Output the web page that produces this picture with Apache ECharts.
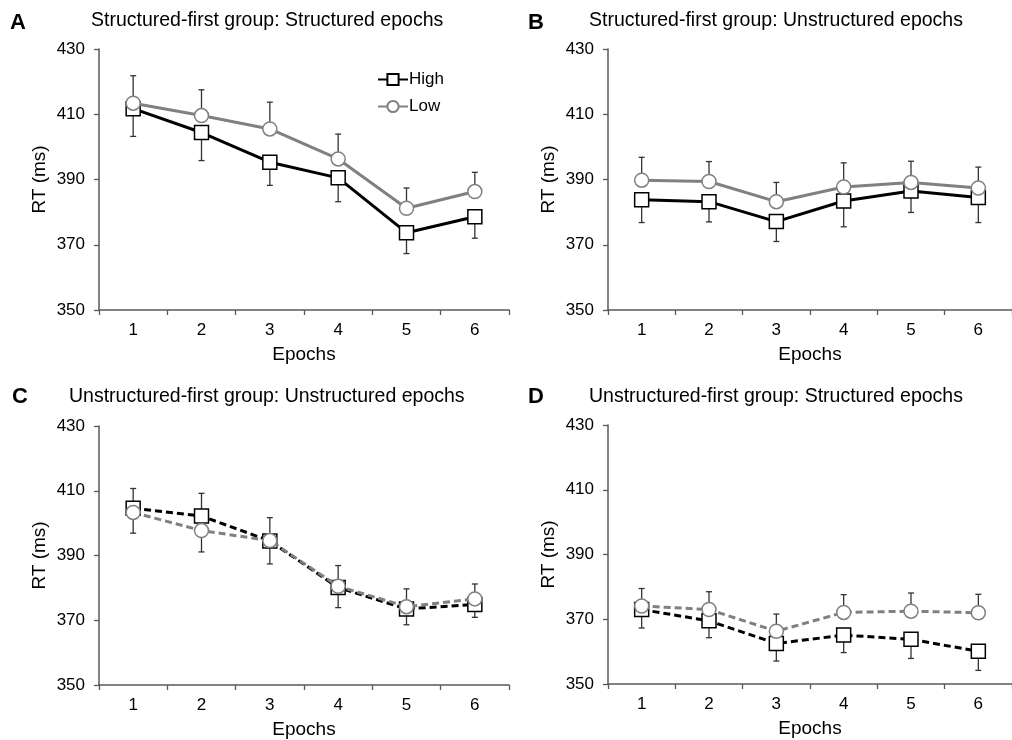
<!DOCTYPE html>
<html>
<head>
<meta charset="utf-8">
<script src="https://cdn.jsdelivr.net/npm/echarts@6/dist/echarts.min.js"></script>
<style>
html,body{margin:0;padding:0;background:#fff;}
#chart{width:1012px;height:740px;}
</style>
</head>
<body>
<div id="chart"></div>
<script>
// ---- data ----
const epochs = ['1', '2', '3', '4', '5', '6'];
const yTicks = [350, 370, 390, 410, 430];
const seriesNames = ['High', 'Low'];

const panelTitles = [
  'Structured-first group: Structured epochs',
  'Structured-first group: Unstructured epochs',
  'Unstructured-first group: Unstructured epochs',
  'Unstructured-first group: Structured epochs'
];
const panelLetters = ['A', 'B', 'C', 'D'];

// Panel A
const highA = [411.7, 404.4, 395.3, 390.5, 373.7, 378.6];
const highA_se = [8.5, 8.6, 7.1, 7.3, 6.4, 6.6];
const lowA = [413.4, 409.6, 405.5, 396.3, 381.2, 386.3];
const lowA_se = [8.4, 7.9, 8.2, 7.6, 6.2, 5.9];
// Panel B
const highB = [383.8, 383.2, 377.1, 383.4, 386.5, 384.5];
const highB_se = [7.0, 6.2, 6.1, 7.9, 6.6, 7.7];
const lowB = [389.8, 389.4, 383.2, 387.7, 389.1, 387.4];
const lowB_se = [7.0, 6.1, 5.9, 7.4, 6.5, 6.4];
// Panel C
const highC = [404.6, 402.2, 394.5, 380.1, 373.5, 374.9];
const highC_se = [7.7, 11.1, 7.1, 6.2, 4.9, 4.0];
const lowC = [403.3, 397.7, 394.6, 380.5, 374.2, 376.6];
const lowC_se = [7.4, 11.5, 7.1, 6.4, 5.5, 4.6];
// Panel D
const highD = [373.0, 369.5, 362.5, 365.1, 363.8, 360.1];
const highD_se = [5.7, 5.2, 5.4, 5.4, 5.9, 5.9];
const lowD = [374.1, 373.0, 366.3, 372.1, 372.5, 372.0];
const lowD_se = [5.4, 5.5, 5.3, 5.5, 5.6, 5.7];

// ---- layout / style ----
const FONT = 'Liberation Sans, Arial, Helvetica, sans-serif';
const AXIS_COLOR = '#595959';
const grids = [
  {left: 99, top: 49, width: 410, height: 261},
  {left: 608, top: 49, width: 410, height: 261},
  {left: 99, top: 426, width: 410, height: 259},
  {left: 608, top: 425, width: 410, height: 259}
];
const titlePos = [
  {left: 91, top: 11}, {left: 589, top: 11},
  {left: 69, top: 387}, {left: 589, top: 387}
];
const letterPos = [
  {left: 10, top: 12}, {left: 528, top: 12},
  {left: 12, top: 386}, {left: 528, top: 386}
];
const panels = [
  {high: highA, highSe: highA_se, low: lowA, lowSe: lowA_se, dashed: false},
  {high: highB, highSe: highB_se, low: lowB, lowSe: lowB_se, dashed: false},
  {high: highC, highSe: highC_se, low: lowC, lowSe: lowC_se, dashed: true},
  {high: highD, highSe: highD_se, low: lowD, lowSe: lowD_se, dashed: true}
];

function errorBarSeries(idx, means, ses, dir) {
  return {
    type: 'custom',
    xAxisIndex: idx, yAxisIndex: idx,
    z: 1,
    silent: true,
    data: means.map((m, i) => [i, m, m + dir * ses[i]]),
    encode: {x: 0, y: [1, 2]},
    renderItem: function (params, api) {
      const p0 = api.coord([api.value(0), api.value(1)]);
      const p1 = api.coord([api.value(0), api.value(2)]);
      const hw = 3;
      const st = {stroke: '#333', lineWidth: 1.3};
      return {
        type: 'group',
        children: [
          {type: 'line', shape: {x1: p0[0], y1: p0[1], x2: p1[0], y2: p1[1]}, style: st},
          {type: 'line', shape: {x1: p1[0] - hw, y1: p1[1], x2: p1[0] + hw, y2: p1[1]}, style: st}
        ]
      };
    }
  };
}

const xAxes = [], yAxes = [], series = [], titles = [];
panels.forEach((p, idx) => {
  xAxes.push({
    type: 'category', gridIndex: idx, data: epochs, boundaryGap: true,
    name: 'Epochs', nameLocation: 'middle', nameGap: 35,
    nameTextStyle: {fontFamily: FONT, fontSize: 19, color: '#000'},
    axisLine: {show: true, lineStyle: {color: AXIS_COLOR, width: 1.5}},
    axisTick: {show: true, inside: false, length: 5, alignWithLabel: false, lineStyle: {color: AXIS_COLOR, width: 1.3}},
    axisLabel: {fontFamily: FONT, fontSize: 17, color: '#000', margin: 12},
    splitLine: {show: false}
  });
  yAxes.push({
    type: 'value', gridIndex: idx, min: yTicks[0], max: yTicks[yTicks.length - 1], interval: 20,
    name: 'RT (ms)', nameLocation: 'middle', nameGap: 50, nameRotate: 90,
    nameTextStyle: {fontFamily: FONT, fontSize: 19, color: '#000'},
    axisLine: {show: true, lineStyle: {color: AXIS_COLOR, width: 1.5}},
    axisTick: {show: true, inside: false, length: 5, lineStyle: {color: AXIS_COLOR, width: 1.3}},
    axisLabel: {fontFamily: FONT, fontSize: 17, color: '#000', margin: 14},
    splitLine: {show: false}
  });
  series.push(errorBarSeries(idx, p.high, p.highSe, -1));
  series.push(errorBarSeries(idx, p.low, p.lowSe, +1));
  series.push({
    name: seriesNames[0], type: 'line', xAxisIndex: idx, yAxisIndex: idx, z: 3,
    data: p.high, symbol: 'rect', symbolSize: 14,
    itemStyle: {color: '#fff', borderColor: '#000', borderWidth: 1.5},
    lineStyle: {color: '#000', width: 3, type: p.dashed ? [7, 4] : 'solid'},
    emphasis: {disabled: true}, animation: false
  });
  series.push({
    name: seriesNames[1], type: 'line', xAxisIndex: idx, yAxisIndex: idx, z: 4,
    data: p.low, symbol: 'circle', symbolSize: 14,
    itemStyle: {color: '#fff', borderColor: '#808080', borderWidth: 1.5},
    lineStyle: {color: '#808080', width: 3, type: p.dashed ? [7, 4] : 'solid'},
    emphasis: {disabled: true}, animation: false
  });
  titles.push({
    text: panelTitles[idx], left: titlePos[idx].left, top: titlePos[idx].top, padding: 0,
    textStyle: {fontFamily: FONT, fontSize: 19.5, fontWeight: 'normal', color: '#000'}
  });
  titles.push({
    text: panelLetters[idx], left: letterPos[idx].left, top: letterPos[idx].top, padding: 0,
    textStyle: {fontFamily: FONT, fontSize: 22, fontWeight: 'bold', color: '#000'}
  });
});

const chart = echarts.init(document.getElementById('chart'), null, {renderer: 'canvas'});
chart.setOption({
  backgroundColor: '#fff',
  animation: false,
  title: titles,
  grid: grids,
  xAxis: xAxes,
  yAxis: yAxes,
  legend: {
    data: seriesNames, orient: 'vertical', left: 377, top: 71, padding: 0,
    itemWidth: 30, itemHeight: 14, itemGap: 10,
    textStyle: {fontFamily: FONT, fontSize: 17, color: '#000', padding: [0, 0, 0, -4]},
    selectedMode: false
  },
  series: series
});
</script>
</body>
</html>
